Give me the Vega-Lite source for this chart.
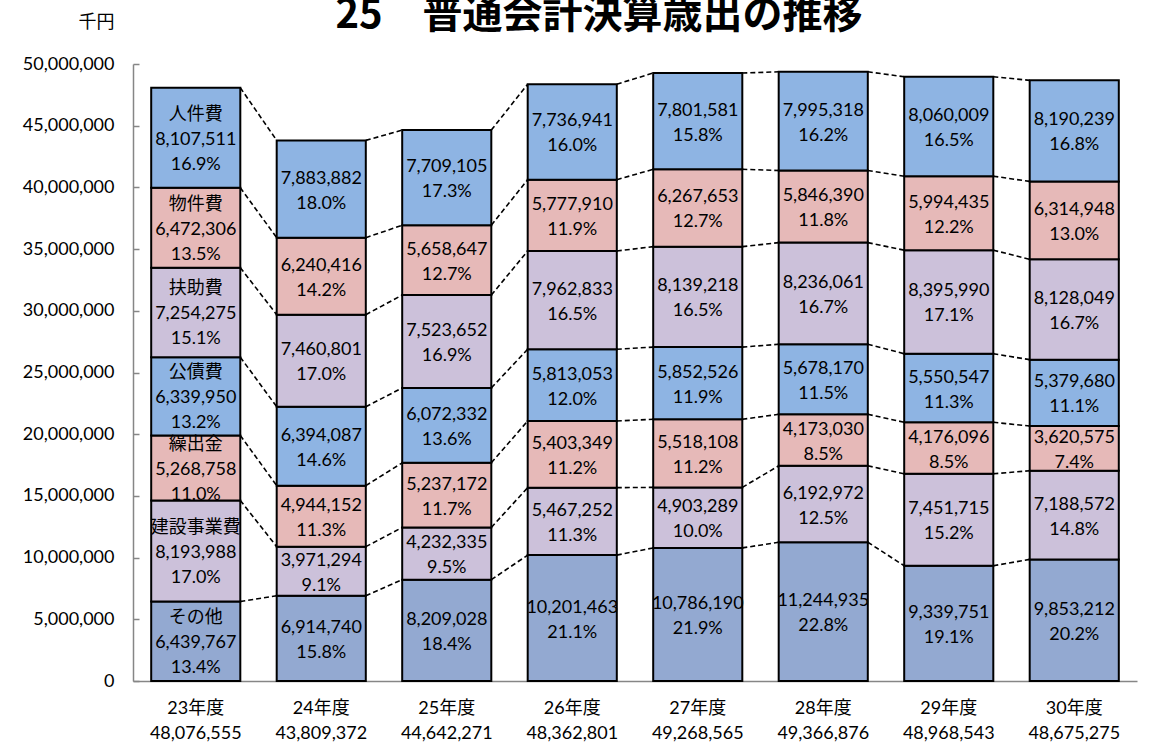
{
  "$schema": "https://vega.github.io/schema/vega-lite/v6.json",
  "width": 1004,
  "height": 617,
  "autosize": "none",
  "padding": {"left": 133, "top": 64, "right": 23, "bottom": 75},
  "background": "white",
  "config": {"view": {"stroke": null}, "font": "Lato, 'Noto Sans CJK JP', sans-serif"},
  "title": {"text": "25　普通会計決算歳出の推移", "fontSize": 40, "fontWeight": "bold", "font": "'Noto Sans CJK JP'", "anchor": "middle", "dx": -36, "offset": 6, "dy": 29, "color": "black"},
  "data": {"values": [
    {"year": "23年度", "cat": "その他", "k": 1, "value": 6439767, "label": "その他\n6,439,767\n13.4%"},
    {"year": "23年度", "cat": "建設事業費", "k": 2, "value": 8193988, "label": "建設事業費\n8,193,988\n17.0%"},
    {"year": "23年度", "cat": "繰出金", "k": 3, "value": 5268758, "label": "繰出金\n5,268,758\n11.0%"},
    {"year": "23年度", "cat": "公債費", "k": 4, "value": 6339950, "label": "公債費\n6,339,950\n13.2%"},
    {"year": "23年度", "cat": "扶助費", "k": 5, "value": 7254275, "label": "扶助費\n7,254,275\n15.1%"},
    {"year": "23年度", "cat": "物件費", "k": 6, "value": 6472306, "label": "物件費\n6,472,306\n13.5%"},
    {"year": "23年度", "cat": "人件費", "k": 7, "value": 8107511, "label": "人件費\n8,107,511\n16.9%"},
    {"year": "24年度", "cat": "その他", "k": 1, "value": 6914740, "label": "6,914,740\n15.8%"},
    {"year": "24年度", "cat": "建設事業費", "k": 2, "value": 3971294, "label": "3,971,294\n9.1%"},
    {"year": "24年度", "cat": "繰出金", "k": 3, "value": 4944152, "label": "4,944,152\n11.3%"},
    {"year": "24年度", "cat": "公債費", "k": 4, "value": 6394087, "label": "6,394,087\n14.6%"},
    {"year": "24年度", "cat": "扶助費", "k": 5, "value": 7460801, "label": "7,460,801\n17.0%"},
    {"year": "24年度", "cat": "物件費", "k": 6, "value": 6240416, "label": "6,240,416\n14.2%"},
    {"year": "24年度", "cat": "人件費", "k": 7, "value": 7883882, "label": "7,883,882\n18.0%"},
    {"year": "25年度", "cat": "その他", "k": 1, "value": 8209028, "label": "8,209,028\n18.4%"},
    {"year": "25年度", "cat": "建設事業費", "k": 2, "value": 4232335, "label": "4,232,335\n9.5%"},
    {"year": "25年度", "cat": "繰出金", "k": 3, "value": 5237172, "label": "5,237,172\n11.7%"},
    {"year": "25年度", "cat": "公債費", "k": 4, "value": 6072332, "label": "6,072,332\n13.6%"},
    {"year": "25年度", "cat": "扶助費", "k": 5, "value": 7523652, "label": "7,523,652\n16.9%"},
    {"year": "25年度", "cat": "物件費", "k": 6, "value": 5658647, "label": "5,658,647\n12.7%"},
    {"year": "25年度", "cat": "人件費", "k": 7, "value": 7709105, "label": "7,709,105\n17.3%"},
    {"year": "26年度", "cat": "その他", "k": 1, "value": 10201463, "label": "10,201,463\n21.1%"},
    {"year": "26年度", "cat": "建設事業費", "k": 2, "value": 5467252, "label": "5,467,252\n11.3%"},
    {"year": "26年度", "cat": "繰出金", "k": 3, "value": 5403349, "label": "5,403,349\n11.2%"},
    {"year": "26年度", "cat": "公債費", "k": 4, "value": 5813053, "label": "5,813,053\n12.0%"},
    {"year": "26年度", "cat": "扶助費", "k": 5, "value": 7962833, "label": "7,962,833\n16.5%"},
    {"year": "26年度", "cat": "物件費", "k": 6, "value": 5777910, "label": "5,777,910\n11.9%"},
    {"year": "26年度", "cat": "人件費", "k": 7, "value": 7736941, "label": "7,736,941\n16.0%"},
    {"year": "27年度", "cat": "その他", "k": 1, "value": 10786190, "label": "10,786,190\n21.9%"},
    {"year": "27年度", "cat": "建設事業費", "k": 2, "value": 4903289, "label": "4,903,289\n10.0%"},
    {"year": "27年度", "cat": "繰出金", "k": 3, "value": 5518108, "label": "5,518,108\n11.2%"},
    {"year": "27年度", "cat": "公債費", "k": 4, "value": 5852526, "label": "5,852,526\n11.9%"},
    {"year": "27年度", "cat": "扶助費", "k": 5, "value": 8139218, "label": "8,139,218\n16.5%"},
    {"year": "27年度", "cat": "物件費", "k": 6, "value": 6267653, "label": "6,267,653\n12.7%"},
    {"year": "27年度", "cat": "人件費", "k": 7, "value": 7801581, "label": "7,801,581\n15.8%"},
    {"year": "28年度", "cat": "その他", "k": 1, "value": 11244935, "label": "11,244,935\n22.8%"},
    {"year": "28年度", "cat": "建設事業費", "k": 2, "value": 6192972, "label": "6,192,972\n12.5%"},
    {"year": "28年度", "cat": "繰出金", "k": 3, "value": 4173030, "label": "4,173,030\n8.5%"},
    {"year": "28年度", "cat": "公債費", "k": 4, "value": 5678170, "label": "5,678,170\n11.5%"},
    {"year": "28年度", "cat": "扶助費", "k": 5, "value": 8236061, "label": "8,236,061\n16.7%"},
    {"year": "28年度", "cat": "物件費", "k": 6, "value": 5846390, "label": "5,846,390\n11.8%"},
    {"year": "28年度", "cat": "人件費", "k": 7, "value": 7995318, "label": "7,995,318\n16.2%"},
    {"year": "29年度", "cat": "その他", "k": 1, "value": 9339751, "label": "9,339,751\n19.1%"},
    {"year": "29年度", "cat": "建設事業費", "k": 2, "value": 7451715, "label": "7,451,715\n15.2%"},
    {"year": "29年度", "cat": "繰出金", "k": 3, "value": 4176096, "label": "4,176,096\n8.5%"},
    {"year": "29年度", "cat": "公債費", "k": 4, "value": 5550547, "label": "5,550,547\n11.3%"},
    {"year": "29年度", "cat": "扶助費", "k": 5, "value": 8395990, "label": "8,395,990\n17.1%"},
    {"year": "29年度", "cat": "物件費", "k": 6, "value": 5994435, "label": "5,994,435\n12.2%"},
    {"year": "29年度", "cat": "人件費", "k": 7, "value": 8060009, "label": "8,060,009\n16.5%"},
    {"year": "30年度", "cat": "その他", "k": 1, "value": 9853212, "label": "9,853,212\n20.2%"},
    {"year": "30年度", "cat": "建設事業費", "k": 2, "value": 7188572, "label": "7,188,572\n14.8%"},
    {"year": "30年度", "cat": "繰出金", "k": 3, "value": 3620575, "label": "3,620,575\n7.4%"},
    {"year": "30年度", "cat": "公債費", "k": 4, "value": 5379680, "label": "5,379,680\n11.1%"},
    {"year": "30年度", "cat": "扶助費", "k": 5, "value": 8128049, "label": "8,128,049\n16.7%"},
    {"year": "30年度", "cat": "物件費", "k": 6, "value": 6314948, "label": "6,314,948\n13.0%"},
    {"year": "30年度", "cat": "人件費", "k": 7, "value": 8190239, "label": "8,190,239\n16.8%"}
  ]},
  "transform": [
    {"stack": "value", "groupby": ["year"], "sort": [{"field": "k", "order": "ascending"}], "as": ["y0", "y1"]}
  ],
  "encoding": {
    "x": {
      "field": "year", "type": "nominal", "sort": null,
      "scale": {"paddingInner": 0.29, "paddingOuter": 0.145},
      "axis": {
        "title": null, "labelAngle": 0, "labelFontSize": 18, "labelColor": "black",
        "labelPadding": 18, "labelLineHeight": 25, "ticks": false,
        "domainColor": "#868686", "domainWidth": 1.5,
        "labelExpr": "[datum.value, {'23年度': '48,076,555', '24年度': '43,809,372', '25年度': '44,642,271', '26年度': '48,362,801', '27年度': '49,268,565', '28年度': '49,366,876', '29年度': '48,968,543', '30年度': '48,675,275'}[datum.value]]"
      }
    }
  },
  "resolve": {"axis": {"y": "shared"}},
  "layer": [
    {
      "mark": {"type": "bar", "stroke": "black", "strokeWidth": 2},
      "encoding": {
        "y": {
          "field": "y0", "type": "quantitative",
          "scale": {"domain": [0, 50000000], "nice": false},
          "axis": {
            "title": "千円", "titleAngle": 0, "titleX": -37, "titleY": -42,
            "titleAlign": "center", "titleBaseline": "middle", "titleFontSize": 18,
            "titleFontWeight": "normal", "titleColor": "black",
            "format": ",d", "formatType": "number", "values": [0, 5000000, 10000000, 15000000, 20000000, 25000000, 30000000, 35000000, 40000000, 45000000, 50000000],
            "labelFontSize": 18, "labelColor": "black",
            "domainColor": "#868686", "domainWidth": 1.5,
            "tickColor": "#868686", "tickWidth": 1.5, "tickSize": -6,
            "labelPadding": 25, "grid": false
          }
        },
        "y2": {"field": "y1"},
        "color": {
          "field": "cat", "type": "nominal", "legend": null,
          "scale": {
            "domain": ["その他", "建設事業費", "繰出金", "公債費", "扶助費", "物件費", "人件費"],
            "range": ["#93A9D1", "#CCC1DA", "#E6B9B8", "#8EB4E3", "#CCC1DA", "#E6B9B8", "#8EB4E3"]
          }
        }
      }
    },
    {
      "transform": [
        {"window": [{"op": "lead", "field": "y1", "as": "nextTop"}, {"op": "lead", "field": "year", "as": "nextYear"}], "groupby": ["cat"], "sort": [{"field": "year", "order": "ascending"}]},
        {"filter": "datum.nextYear != null"}
      ],
      "mark": {"type": "rule", "strokeDash": [5, 3], "strokeWidth": 1.6, "color": "black"},
      "encoding": {
        "x": {"field": "year", "type": "nominal", "sort": null, "bandPosition": 1},
        "x2": {"field": "nextYear", "bandPosition": 0},
        "y": {
          "field": "y1", "type": "quantitative",
          "scale": {"domain": [0, 50000000], "nice": false},
          "axis": {
            "title": "千円", "titleAngle": 0, "titleX": -37, "titleY": -42,
            "titleAlign": "center", "titleBaseline": "middle", "titleFontSize": 18,
            "titleFontWeight": "normal", "titleColor": "black",
            "format": ",d", "formatType": "number", "values": [0, 5000000, 10000000, 15000000, 20000000, 25000000, 30000000, 35000000, 40000000, 45000000, 50000000],
            "labelFontSize": 18, "labelColor": "black",
            "domainColor": "#868686", "domainWidth": 1.5,
            "tickColor": "#868686", "tickWidth": 1.5, "tickSize": -6,
            "labelPadding": 25, "grid": false
          }
        },
        "y2": {"field": "nextTop"}
      }
    },
    {
      "transform": [
        {"filter": "datum.year == '23年度'"},
        {"fold": ["y0", "y1"], "as": ["edge", "edgeVal"]},
        {"aggregate": [{"op": "mean", "field": "edgeVal", "as": "mid"}], "groupby": ["year", "cat", "label"]}
      ],
      "mark": {"type": "text", "fontSize": 18, "lineBreak": "\n", "lineHeight": 25, "dy": -23, "color": "black"},
      "encoding": {
        "x": {"field": "year", "type": "nominal", "sort": null},
        "y": {
          "field": "mid", "type": "quantitative",
          "scale": {"domain": [0, 50000000], "nice": false},
          "axis": {
            "title": "千円", "titleAngle": 0, "titleX": -37, "titleY": -42,
            "titleAlign": "center", "titleBaseline": "middle", "titleFontSize": 18,
            "titleFontWeight": "normal", "titleColor": "black",
            "format": ",d", "formatType": "number", "values": [0, 5000000, 10000000, 15000000, 20000000, 25000000, 30000000, 35000000, 40000000, 45000000, 50000000],
            "labelFontSize": 18, "labelColor": "black",
            "domainColor": "#868686", "domainWidth": 1.5,
            "tickColor": "#868686", "tickWidth": 1.5, "tickSize": -6,
            "labelPadding": 25, "grid": false
          }
        },
        "text": {"field": "label", "type": "nominal"}
      }
    },
    {
      "transform": [
        {"filter": "datum.year != '23年度'"},
        {"fold": ["y0", "y1"], "as": ["edge", "edgeVal"]},
        {"aggregate": [{"op": "mean", "field": "edgeVal", "as": "mid"}], "groupby": ["year", "cat", "label"]}
      ],
      "mark": {"type": "text", "fontSize": 18, "lineBreak": "\n", "lineHeight": 25, "dy": -10.5, "color": "black"},
      "encoding": {
        "x": {"field": "year", "type": "nominal", "sort": null},
        "y": {
          "field": "mid", "type": "quantitative",
          "scale": {"domain": [0, 50000000], "nice": false},
          "axis": {
            "title": "千円", "titleAngle": 0, "titleX": -37, "titleY": -42,
            "titleAlign": "center", "titleBaseline": "middle", "titleFontSize": 18,
            "titleFontWeight": "normal", "titleColor": "black",
            "format": ",d", "formatType": "number", "values": [0, 5000000, 10000000, 15000000, 20000000, 25000000, 30000000, 35000000, 40000000, 45000000, 50000000],
            "labelFontSize": 18, "labelColor": "black",
            "domainColor": "#868686", "domainWidth": 1.5,
            "tickColor": "#868686", "tickWidth": 1.5, "tickSize": -6,
            "labelPadding": 25, "grid": false
          }
        },
        "text": {"field": "label", "type": "nominal"}
      }
    }
  ]
}
